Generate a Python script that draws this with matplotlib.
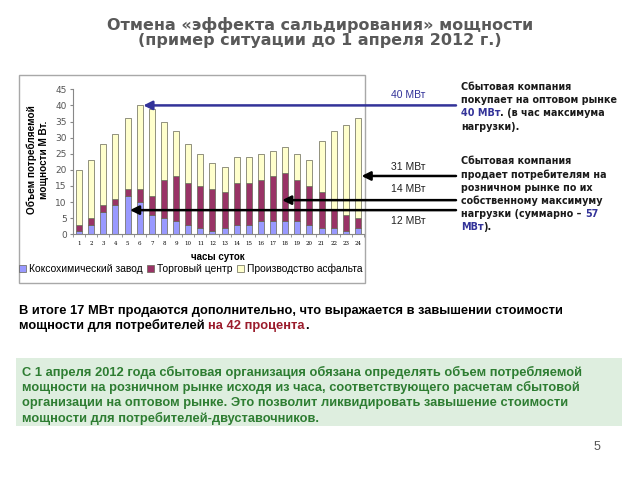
import numpy as np
import matplotlib.pyplot as plt
from matplotlib.patches import Rectangle
from matplotlib.transforms import blended_transform_factory

# данные (МВт по часам суток)
hours = list(range(1, 25))
koks = [1, 3, 7, 9, 12, 10, 6, 5, 4, 3, 2, 1, 2, 3, 3, 4, 4, 4, 4, 3, 2, 2, 1, 2]
tc = [2, 2, 2, 2, 2, 4, 6, 12, 14, 13, 13, 13, 11, 13, 13, 13, 14, 15, 13, 12, 11, 6, 5, 3]
asph = [17, 18, 19, 20, 22, 26, 27, 18, 14, 12, 10, 8, 8, 8, 8, 8, 8, 8, 8, 8, 16, 24, 28, 31]
series_names = ["Коксохимический завод", "Торговый центр", "Производство асфальта"]
series_colors = ["#9999ff", "#993366", "#ffffcc"]

W, H = 640, 480
BLUE = "#333399"
DARK = "#1a1a1a"


def fx(px):
    return px / W


def fy(py):
    return 1 - py / H


fig = plt.figure(figsize=(6.4, 4.8), dpi=100)
bg = fig.add_axes([0, 0, 1, 1])
bg.axis("off")
bg.set_xlim(0, 1)
bg.set_ylim(0, 1)


def rich_line(x, y, parts, **kw):
    # parts: (текст, цвет, отступ в пунктах)
    s, c, _ = parts[0]
    t = bg.text(x, y, s, color=c, va="center", ha="left", **kw)
    for s, c, gap in parts[1:]:
        t = bg.annotate(s, xy=(1, 0), xycoords=t, xytext=(gap, 0),
                        textcoords="offset points", va="bottom", ha="left", color=c, **kw)
    return t


# заголовок
bg.text(0.5, fy(25), "Отмена «эффекта сальдирования» мощности", ha="center", va="center",
        fontsize=11.5, fontweight="bold", color="#595959", family="DejaVu Sans")
bg.text(0.5, fy(41), "(пример ситуации до 1 апреля 2012 г.)", ha="center", va="center",
        fontsize=11.5, fontweight="bold", color="#595959", family="DejaVu Sans")

# рамка диаграммы
bg.add_patch(Rectangle((fx(19), fy(283)), fx(365) - fx(19), fy(75) - fy(283),
                       fill=False, edgecolor="#a8a8a8", lw=1))

ax = fig.add_axes([fx(73), fy(234.3), fx(364) - fx(73), fy(89.3) - fy(234.3)])
bottom = np.zeros(len(hours))
for vals, name, col in zip([koks, tc, asph], series_names, series_colors):
    ax.bar(hours, vals, width=0.5, bottom=bottom, color=col, edgecolor="#666655",
           linewidth=0.5, label=name, zorder=2)
    bottom += np.array(vals)

ax.set_xlim(0.5, 24.5)
ax.set_ylim(0, 45)
ax.set_yticks(range(0, 46, 5))
ax.set_xticks(hours)
ax.set_xticks(np.arange(0.5, 25, 1), minor=True)
ax.tick_params(axis="y", labelsize=6.5, labelcolor="#555555", color="#888888", length=2.5, pad=2)
ax.tick_params(axis="x", which="major", length=0, labelsize=4, pad=5)
ax.tick_params(axis="x", which="minor", length=2, color="#888888")
for lab in ax.get_xticklabels():
    lab.set_family("DejaVu Serif")
for sp in ["top", "right"]:
    ax.spines[sp].set_visible(False)
for sp in ["left", "bottom"]:
    ax.spines[sp].set_color("#888888")
    ax.spines[sp].set_linewidth(0.8)

bg.text(fx(38), fy(160), "Объем потребляемой\nмощности М Вт.", rotation=90, ha="center",
        va="center", fontsize=7.2, fontweight="bold", family="Liberation Sans", linespacing=1.3)
bg.text(fx(218), fy(257), "часы суток", ha="center", va="center", fontsize=7,
        fontweight="bold", family="Liberation Sans")

handles, labels = ax.get_legend_handles_labels()
fig.legend(handles, labels, loc="center", bbox_to_anchor=(fx(191), fy(269)), ncol=3,
           frameon=False, handlelength=0.7, handleheight=0.7,
           handletextpad=0.3, columnspacing=0.4, prop={"family": "Liberation Sans", "size": 7.4})

# стрелки
totals = np.array(koks) + np.array(tc) + np.array(asph)
i_max = int(np.argmax(totals))
mix = blended_transform_factory(fig.transFigure, ax.transData)
arrows = [
    ((hours[i_max] + 0.3, totals[i_max]), BLUE, "40 МВт", 95),
    ((hours[-1] + 0.3, 18.1), "black", "31 МВт", 167),
    ((hours[17] - 0.25, 10.6), "black", "14 МВт", 189),
    ((hours[4] + 0.2, 7.5), "black", "12 МВт", 221),
]
for xy, col, lab, ly in arrows:
    ax.annotate("", xy=xy, xycoords="data", xytext=(fx(456), xy[1]), textcoords=mix,
                arrowprops=dict(arrowstyle="-|>", color=col, lw=1.8, mutation_scale=13,
                                shrinkA=0, shrinkB=0), annotation_clip=False, zorder=5)
    bg.text(fx(408), fy(ly), lab, ha="center", va="center", fontsize=7.5,
            color=BLUE if col == BLUE else "#222222", family="Liberation Sans")

# пояснения справа
kw = dict(fontsize=6.9, fontweight="bold", family="DejaVu Sans")
x0 = fx(461)
bg.text(x0, fy(87), "Сбытовая компания", color=DARK, va="center", **kw)
bg.text(x0, fy(100), "покупает на оптовом рынке", color=DARK, va="center", **kw)
rich_line(x0, fy(113.5), [("40 МВт", BLUE, 0), (". (в час максимума", DARK, 0)], **kw)
bg.text(x0, fy(127), "нагрузки).", color=DARK, va="center", **kw)

block2 = ["Сбытовая компания", "продает потребителям на", "розничном рынке по их",
          "собственному максимуму"]
for k, line in enumerate(block2):
    bg.text(x0, fy(161 + 13.3 * k), line, color=DARK, va="center", **kw)
rich_line(x0, fy(214), [("нагрузки (суммарно –", DARK, 0), ("57", BLUE, 2.5)], **kw)
rich_line(x0, fy(227), [("МВт", BLUE, 0), (").", DARK, 0)], **kw)

# вывод
kw2 = dict(fontsize=9.3, fontweight="bold", family="Liberation Sans")
bg.text(fx(19), fy(311), "В итоге 17 МВт продаются дополнительно, что выражается в завышении стоимости",
        color="black", va="center", **kw2)
rich_line(fx(19), fy(325), [("мощности для потребителей", "black", 0),
                            ("на 42 процента", "#9b1c2c", 2.6), (".", "black", 0)], **kw2)

# зеленый блок
bg.add_patch(Rectangle((fx(16), fy(426)), fx(622) - fx(16), fy(358) - fy(426),
                       facecolor="#deeedf", edgecolor="none"))
green_lines = [
    "С 1 апреля 2012 года сбытовая организация обязана определять объем потребляемой",
    "мощности на розничном рынке исходя из часа, соответствующего расчетам сбытовой",
    "организации на оптовом рынке. Это позволит ликвидировать завышение стоимости",
    "мощности для потребителей-двуставочников.",
]
for k, line in enumerate(green_lines):
    bg.text(fx(22), fy(372 + 15.5 * k), line, color="#2e7d32", va="center", **kw2)

bg.text(fx(597), fy(447), "5", ha="center", va="center", fontsize=9, color="#555555",
        family="Liberation Sans")

fig.savefig("out.png", dpi=100)
